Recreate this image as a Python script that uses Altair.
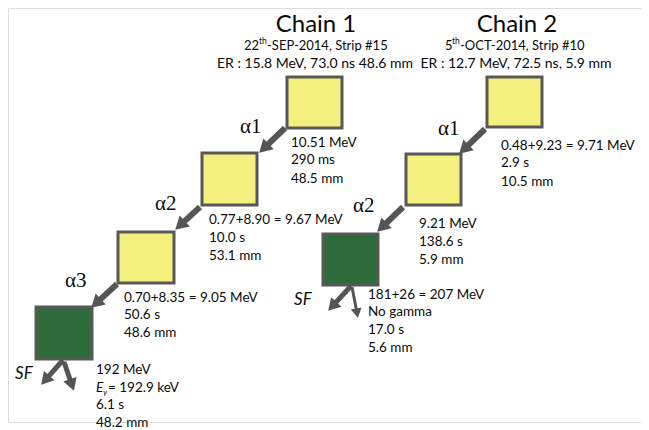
import altair as alt
import pandas as pd
import numpy as np

# ---- boxes (nuclei) : left, top, right, bottom in picture pixels
box_left = [287, 202, 118, 36, 487, 406, 323]
box_top = [77, 153, 232, 307, 77, 154, 234]
box_right = [342, 257, 174, 92, 542, 461, 378]
box_bottom = [128, 205, 283, 359, 127, 205, 285]
box_kind = ["alpha", "alpha", "alpha", "sf", "alpha", "alpha", "sf"]

# ---- arrows: tail -> tip
arr_x0 = [285, 200, 117, 485, 403, 63, 64, 351, 352]
arr_y0 = [128, 207, 284, 129, 207, 360, 362, 286, 287]
arr_x1 = [259, 175, 91, 459, 377, 41, 74, 328, 358]
arr_y1 = [153, 230, 308, 154, 232, 385, 391, 311, 318]
arr_w = [6, 6, 6, 6, 6, 5, 5, 5, 3]
arr_head = [15, 15, 15, 15, 15, 14, 14, 14, 11]

# ---- titles
title_text = ["Chain 1", "Chain 2"]
title_x = [316, 517]
title_y = [32, 32]

# ---- ER lines (centred)
er_text = ["ER : 15.8 MeV, 73.0 ns 48.6 mm", "ER : 12.7 MeV, 72.5 ns, 5.9 mm"]
er_x = [315, 516]
er_y = [68, 68]

# ---- date lines (pieces, left aligned)
date_text = ["22", "-SEP-2014, Strip #15", "5", "-OCT-2014, Strip #10"]
date_x = [244, 267, 445, 460]
date_y = [50, 50, 50, 50]
sup_text = ["th", "th"]
sup_x = [259, 452]
sup_y = [44, 44]

# ---- alpha labels
alpha_text = ["\u03b11", "\u03b12", "\u03b13", "\u03b11", "\u03b12"]
alpha_x = [240, 155, 65, 438, 353]
alpha_y = [133, 210, 287, 135, 212]

# ---- SF labels
sf_text = ["SF", "SF"]
sf_x = [15, 294]
sf_y = [379, 305]

# ---- decay data text lines
info_text = [
    "10.51 MeV", "290 ms", "48.5 mm",
    "0.77+8.90 = 9.67 MeV", "10.0 s", "53.1 mm",
    "0.70+8.35 = 9.05 MeV", "50.6 s", "48.6 mm",
    "192 MeV", "= 192.9 keV", "6.1 s", "48.2 mm",
    "0.48+9.23 = 9.71 MeV", "2.9 s", "10.5 mm",
    "9.21 MeV", "138.6 s", "5.9 mm",
    "181+26 = 207 MeV", "No gamma", "17.0 s", "5.6 mm",
]
info_x = [
    291, 291, 291,
    209, 209, 209,
    124, 124, 124,
    96, 108, 96, 96,
    501, 501, 501,
    419, 419, 419,
    368, 368, 368, 368,
]
info_y = [
    147, 164, 183,
    224, 242, 260,
    302, 319, 337,
    374, 392, 409, 427,
    150, 167, 186,
    228, 246, 264,
    299, 316, 334, 352,
]
# E_gamma symbol
eg_text = ["E"]
eg_x = [96]
eg_y = [392]
gam_text = ["\u03b3"]
gam_x = [103]
gam_y = [395]

FILL = {"alpha": "#F4F07E", "sf": "#2E6B3A"}
ARROW = "#555555"
FONT = "Lato"

X = alt.Scale(domain=[8, 641], range=[0, 633])
Y = alt.Scale(domain=[8, 422], range=[0, 414])

def xq(f):
    return alt.X(f, type="quantitative", scale=X, axis=None)

def yq(f):
    return alt.Y(f, type="quantitative", scale=Y, axis=None)

boxes = pd.DataFrame({"l": box_left, "t": box_top, "r": box_right, "b": box_bottom,
                      "fill": [FILL[k] for k in box_kind]})

ar = pd.DataFrame({"x0": arr_x0, "y0": arr_y0, "x1": arr_x1, "y1": arr_y1,
                   "w": arr_w, "h": arr_head})
dx = ar.x1 - ar.x0
dy = ar.y1 - ar.y0
ln = np.sqrt(dx ** 2 + dy ** 2)
ux, uy = dx / ln, dy / ln
ar["bx"] = ar.x1 - ux * ar.h * 0.7
ar["by"] = ar.y1 - uy * ar.h * 0.7
ar["hx"] = ar.x1 - ux * ar.h * 0.45
ar["hy"] = ar.y1 - uy * ar.h * 0.45
ar["ang"] = (np.degrees(np.arctan2(dx, -dy)) + 360) % 360
ar["size"] = ar.h ** 2

def tdf(t, x, y):
    return pd.DataFrame({"t": t, "x": x, "y": y})

def text_layer(df, **kw):
    return alt.Chart(df).mark_text(baseline="alphabetic", color="#0a0a0a", **kw).encode(
        x=xq("x"), y=yq("y"), text="t:N")

rects = alt.Chart(boxes).mark_rect(stroke="#585858", strokeWidth=3).encode(
    x=xq("l"), x2="r", y=yq("t"), y2="b", fill=alt.Fill("fill:N", scale=None))

shafts = alt.Chart(ar).mark_rule(color=ARROW, strokeCap="butt").encode(
    x=xq("x0"), y=yq("y0"), x2="bx", y2="by",
    strokeWidth=alt.StrokeWidth("w:Q", scale=None))

heads = alt.Chart(ar).mark_point(shape="triangle-up", filled=True, color=ARROW, opacity=1).encode(
    x=xq("hx"), y=yq("hy"),
    angle=alt.Angle("ang:Q", scale=None),
    size=alt.Size("size:Q", scale=None))

layers = [
    rects, shafts, heads,
    text_layer(tdf(title_text, title_x, title_y), font=FONT, fontSize=24, align="center"),
    text_layer(tdf(er_text, er_x, er_y), font=FONT, fontSize=14, align="center"),
    text_layer(tdf(date_text, date_x, date_y), font=FONT, fontSize=13, align="left"),
    text_layer(tdf(sup_text, sup_x, sup_y), font=FONT, fontSize=8.5, align="left"),
    text_layer(tdf(alpha_text, alpha_x, alpha_y), font="Liberation Serif", fontSize=21, align="left"),
    text_layer(tdf(sf_text, sf_x, sf_y), font=FONT, fontSize=17, fontStyle="italic", align="left"),
    text_layer(tdf(info_text, info_x, info_y), font=FONT, fontSize=13.5, align="left"),
    text_layer(tdf(eg_text, eg_x, eg_y), font=FONT, fontSize=13.5, fontStyle="italic", align="left"),
    text_layer(tdf(gam_text, gam_x, gam_y), font=FONT, fontSize=8, fontStyle="italic", align="left"),
]

chart = alt.layer(*layers).properties(width=633, height=414, padding=0).configure_view(
    strokeWidth=0).configure(background="white")

chart.save("out.html", embed_options={"renderer": "svg", "actions": False})
